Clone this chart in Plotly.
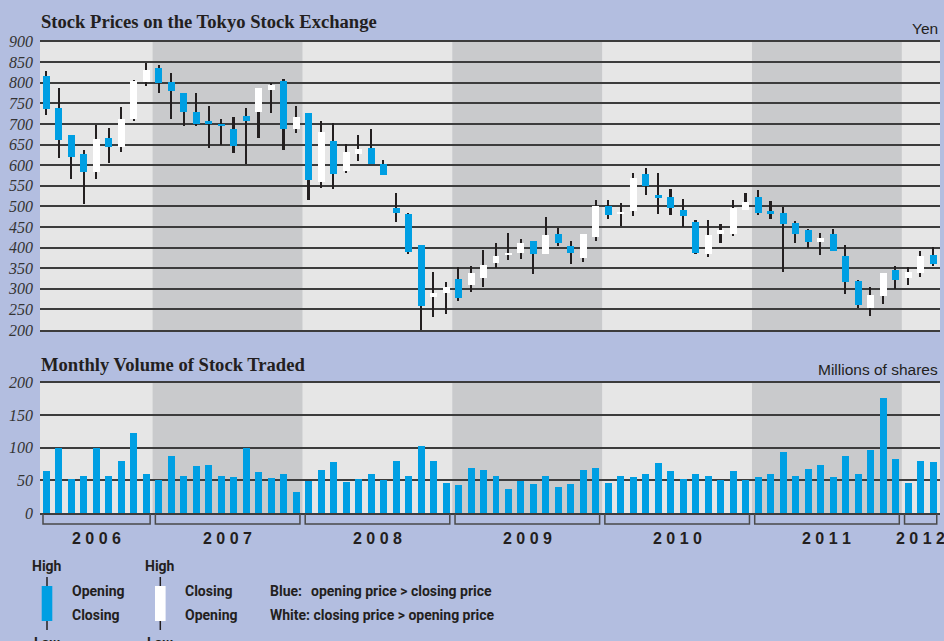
import plotly.graph_objects as go
import pandas as pd

# ---------------- data ----------------
months = pd.date_range("2006-04-01", periods=72, freq="MS")
years = ["2006", "2007", "2008", "2009", "2010", "2011", "2012"]
dark_years = ["2007", "2009", "2011"]

opens = [817, 739, 673, 627, 584, 666, 644, 712, 804,
         836, 802, 775, 729, 707, 702, 688, 720, 729, 783, 805, 688,
         727, 559, 659, 586, 627, 642, 605, 496, 482, 406, 281, 290,
         324, 309, 326, 363, 382, 387, 416, 385, 435, 404, 375, 426,
         503, 484, 489, 580, 528, 523, 491, 462, 385, 435, 433, 492,
         523, 489, 486, 460, 443, 414, 433, 380, 319, 253, 283, 346,
         326, 338, 382]
closes = [737, 661, 622, 584, 664, 644, 712, 805, 831,
          800, 781, 730, 702, 702, 696, 648, 708, 788, 795, 688, 717,
          564, 681, 579, 632, 640, 605, 576, 485, 389, 258, 290, 305,
          278, 338, 358, 380, 387, 411, 385, 431, 411, 387, 433, 501,
          479, 487, 570, 550, 521, 497, 477, 387, 431, 444, 496, 512,
          486, 482, 457, 435, 414, 425, 392, 317, 261, 285, 338, 321,
          341, 380, 360]
highs = [830, 788, 673, 638, 699, 691, 743, 808, 849,
         843, 824, 775, 776, 745, 713, 719, 739, 788, 800, 811, 745,
         728, 709, 704, 653, 673, 688, 613, 533, 486, 406, 341, 317,
         354, 357, 394, 413, 436, 421, 418, 474, 449, 418, 435, 517,
         516, 508, 581, 593, 581, 544, 520, 467, 467, 457, 516, 533,
         540, 515, 499, 465, 446, 437, 445, 408, 321, 304, 340, 355,
         353, 393, 402]
lows = [722, 619, 567, 507, 568, 607, 633, 708, 794,
        777, 712, 696, 697, 642, 651, 631, 604, 667, 727, 638, 679,
        516, 546, 543, 582, 610, 603, 576, 463, 386, 198, 233, 240,
        271, 293, 304, 351, 370, 374, 336, 385, 404, 360, 367, 416,
        471, 454, 477, 529, 482, 481, 450, 385, 379, 412, 428, 492,
        481, 471, 342, 413, 399, 382, 392, 289, 253, 235, 264, 301,
        311, 330, 356]
volume = [64.5, 100, 52, 58, 101, 57, 80, 124, 60,
          51, 87.5, 58, 72, 74, 57, 55, 100, 63, 54, 60, 32,
          49, 66, 78, 48, 52, 60, 51, 80, 57, 103, 81, 46,
          43, 69, 66, 57, 37, 49, 44.5, 58, 40, 44.5, 66, 69,
          46, 57, 55, 60, 77, 64.5, 52, 61, 57, 51, 64.5, 51,
          55, 60, 94, 57, 67.5, 74, 55, 87.5, 61, 97, 176.5, 84,
          46, 80, 78]

price_ticks = list(range(200, 901, 50))
volume_ticks = list(range(0, 201, 50))

# ---------------- styling ----------------
W, H = 944, 641
BG = "#B3BEE0"
LIGHT = "#E6E6E6"
DARK = "#C9CACC"
BLUE = "#009FE3"
INK = "#231F20"
GRID = "#3C3C3C"
SERIF = "Liberation Serif, Times New Roman, serif"
SANS = "Liberation Sans, Arial, sans-serif"
NARROW = "Roboto, Liberation Sans, sans-serif"


def PX(x):
    return x / W


def PY(y):
    return 1 - y / H


idx = list(range(len(months)))
XR = [-0.52, 71.56]

body_base = [min(o, c) for o, c in zip(opens, closes)]
body_h = [abs(o - c) for o, c in zip(opens, closes)]
body_col = [BLUE if o > c else "white" for o, c in zip(opens, closes)]
wick_h = [h - l for h, l in zip(highs, lows)]

fig = go.Figure()
fig.add_trace(go.Bar(x=idx, y=wick_h, base=lows, width=0.13,
                     marker=dict(color=INK, line=dict(width=0)),
                     xaxis="x", yaxis="y", hoverinfo="skip"))
fig.add_trace(go.Bar(x=idx, y=body_h, base=body_base, width=0.56,
                     marker=dict(color=body_col, line=dict(width=0)),
                     xaxis="x", yaxis="y",
                     customdata=list(zip(opens, highs, lows, closes)),
                     hovertemplate="O %{customdata[0]} H %{customdata[1]} L %{customdata[2]} C %{customdata[3]}<extra></extra>"))
fig.add_trace(go.Bar(x=idx, y=volume, width=0.56,
                     marker=dict(color=BLUE, line=dict(width=0)),
                     xaxis="x2", yaxis="y2"))

shapes = []
annotations = []

# year bands and brackets
year_of = [str(m.year) for m in months]
for yr in years:
    ii = [i for i, y in enumerate(year_of) if y == yr]
    a, b = ii[0], ii[-1]
    if yr in dark_years:
        for xr, yr_ref in (("x", "y domain"), ("x2", "y2 domain")):
            shapes.append(dict(type="rect", xref=xr, yref=yr_ref,
                               x0=a - 0.5, x1=b + 0.5, y0=0, y1=1,
                               fillcolor=DARK, line=dict(width=0), layer="below"))
    y0, y1 = PY(514), PY(524)
    shapes.append(dict(type="path", xref="x2", yref="paper",
                       path=f"M {a - 0.28},{y0} L {a - 0.28},{y1} L {b + 0.3},{y1} L {b + 0.3},{y0}",
                       line=dict(color="#4A4A4A", width=1.5)))
    annotations.append(dict(xref="x2", yref="paper", x=(a + b) / 2, y=PY(538),
                            text="<b>" + " ".join(yr) + "</b>", showarrow=False,
                            xanchor="center", yanchor="middle",
                            font=dict(family=SANS, size=16, color=INK)))

# titles & units
annotations += [
    dict(xref="paper", yref="paper", x=PX(39), y=PY(21),
         text="<b>Stock Prices on the Tokyo Stock Exchange</b>", showarrow=False,
         xanchor="left", yanchor="middle", font=dict(family=SERIF, size=18.6, color=INK)),
    dict(xref="paper", yref="paper", x=PX(39), y=PY(364),
         text="<b>Monthly Volume of Stock Traded</b>", showarrow=False,
         xanchor="left", yanchor="middle", font=dict(family=SERIF, size=18.6, color=INK)),
    dict(xref="paper", yref="paper", x=PX(940), y=PY(29),
         text="Yen", showarrow=False,
         xanchor="right", yanchor="middle", font=dict(family=SANS, size=15.5, color=INK)),
    dict(xref="paper", yref="paper", x=PX(940), y=PY(369),
         text="Millions of shares", showarrow=False,
         xanchor="right", yanchor="middle", font=dict(family=SANS, size=15.5, color=INK)),
]

# legend key
LF = dict(family=NARROW, size=14, color=INK)
for cx, fill in ((47, BLUE), (160.3, "white")):
    shapes.append(dict(type="line", xref="paper", yref="paper",
                       x0=PX(cx), x1=PX(cx), y0=PY(577), y1=PY(630),
                       line=dict(color=INK, width=1.5)))
    shapes.append(dict(type="rect", xref="paper", yref="paper",
                       x0=PX(cx - 5.3), x1=PX(cx + 5.3), y0=PY(586), y1=PY(621),
                       fillcolor=fill, line=dict(width=0)))
    annotations.append(dict(xref="paper", yref="paper", x=PX(cx), y=PY(566),
                            text="<b>High</b>", showarrow=False, xanchor="center",
                            yanchor="middle", font=LF))
    annotations.append(dict(xref="paper", yref="paper", x=PX(cx), y=PY(643),
                            text="<b>Low</b>", showarrow=False, xanchor="center",
                            yanchor="middle", font=LF))
for x, y, t in ((70, 591, "Opening"), (70, 615, "Closing"),
                (183, 591, "Closing"), (183, 615, "Opening"),
                (268, 591, "Blue:"), (309, 591, "opening price > closing price"),
                (268, 615, "White: closing price > opening price")):
    annotations.append(dict(xref="paper", yref="paper", x=PX(x), y=PY(y),
                            text="<b>" + t + "</b>", showarrow=False, xanchor="left",
                            yanchor="middle", font=LF))

xdom = [PX(40), PX(940)]
tickfont = dict(family=SERIF, size=16, color="#333333", style="italic")
common_x = dict(domain=xdom, range=XR, showticklabels=False, showgrid=False,
                zeroline=False, ticks="", showline=True, mirror=True,
                linecolor=GRID, linewidth=1.5, fixedrange=True, automargin=False)
common_y = dict(showgrid=True, gridcolor=GRID, gridwidth=1.5, zeroline=False,
                ticks="", showline=False, tickfont=tickfont, ticklabelstandoff=6,
                fixedrange=True, automargin=False)

fig.update_layout(
    width=W, height=H, margin=dict(l=0, r=0, t=0, b=0, pad=0, autoexpand=False),
    paper_bgcolor=BG, plot_bgcolor=LIGHT, showlegend=False,
    barmode="overlay", bargap=0,
    xaxis=dict(anchor="y", **common_x),
    xaxis2=dict(anchor="y2", **common_x),
    yaxis=dict(domain=[PY(330), PY(41.7)], range=[200, 900], tickvals=price_ticks,
               anchor="x", **common_y),
    yaxis2=dict(domain=[PY(513), PY(382.7)], range=[0, 200], tickvals=volume_ticks,
                anchor="x2", **common_y),
    shapes=shapes, annotations=annotations,
)

fig.write_html("out.html", config={"displayModeBar": False},
               post_script="document.documentElement.style.margin='0px';document.body.style.margin='0px';document.body.style.padding='0px';document.body.style.background='" + BG + "';")
